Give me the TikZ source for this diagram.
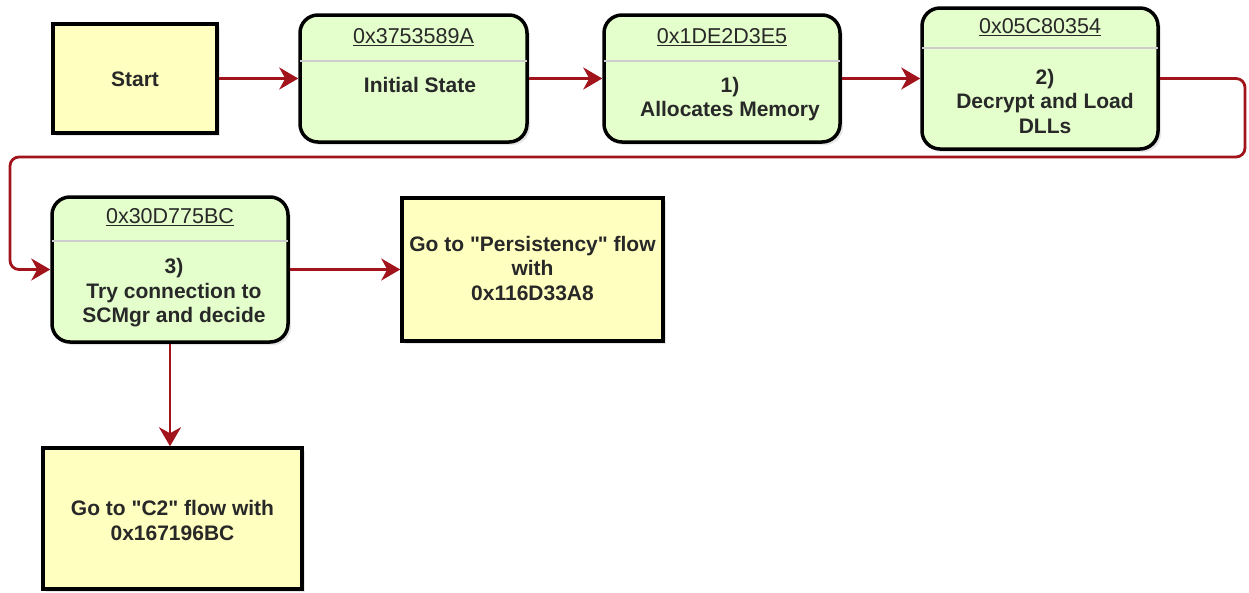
\documentclass[tikz,border=0pt]{standalone}
\usepackage{fontspec}
\setmainfont{Liberation Sans}
\usetikzlibrary{arrows.meta,shadows}
\definecolor{boxyellow}{RGB}{255,255,192}
\definecolor{boxgreen}{RGB}{228,255,204}
\definecolor{arrowred}{RGB}{162,20,28}
\definecolor{txt}{RGB}{40,40,40}
\definecolor{sepgray}{RGB}{205,205,205}
\begin{document}
\begin{tikzpicture}[x=1pt,y=-1pt,
  every node/.style={font=\fontsize{21}{24.5}\selectfont, text=txt},
  plainbox/.style={draw=black, line width=3.5pt, fill=boxyellow, align=center,
    drop shadow={shadow xshift=3pt, shadow yshift=-3pt, opacity=0.2}},
  statebox/.style={draw=black, line width=3.5pt, fill=boxgreen, rounded corners=18pt,
    drop shadow={shadow xshift=3pt, shadow yshift=-3pt, opacity=0.2}},
  hdr/.style={inner sep=0pt, font=\fontsize{21.5}{25}\selectfont},
  bodytxt/.style={inner sep=0pt, align=center, font=\fontsize{21}{24.5}\selectfont\bfseries},
  sepline/.style={draw=sepgray, line width=1.8pt, shorten <=1.8pt, shorten >=1.8pt},
  flow/.style={draw=arrowred, line width=2.8pt,
    -{Stealth[length=19pt,width=22pt,inset=6pt]}}
]
\useasboundingbox (0,0) rectangle (1249,592);

% Start
\node[plainbox, minimum width=164, minimum height=109] (start) at (135,78.5) {};
\node[bodytxt] (startt) at (135,79) {Start};

% State 1
\node[statebox, minimum width=227, minimum height=127] (b1) at (413.5,78.5) {};
\draw[sepline] (b1.west |- 0,61) -- (b1.east |- 0,61);
\node[hdr] (b1h) at (413.5,37) {\underline{0x3753589A}};
\node[bodytxt] (b1t) at (420,85) {Initial State};

% State 2
\node[statebox, minimum width=236, minimum height=127] (b2) at (722,78.5) {};
\draw[sepline] (b2.west |- 0,61) -- (b2.east |- 0,61);
\node[hdr] (b2h) at (722,37) {\underline{0x1DE2D3E5}};
\node[bodytxt] (b2t) at (730,99) {1)\\Allocates Memory};

% State 3
\node[statebox, minimum width=236, minimum height=141] (b3) at (1040,78.5) {};
\draw[sepline] (b3.west |- 0,48) -- (b3.east |- 0,48);
\node[hdr] (b3h) at (1040,27) {\underline{0x05C80354}};
\node[bodytxt] (b3t) at (1045,101) {2)\\Decrypt and Load\\DLLs};

% State 4
\node[statebox, minimum width=236, minimum height=145] (b4) at (170,269.5) {};
\draw[sepline] (b4.west |- 0,241) -- (b4.east |- 0,241);
\node[hdr] (b4h) at (170,217) {\underline{0x30D775BC}};
\node[bodytxt] (b4t) at (174,293) {3)\\Try connection to\\SCMgr and decide};

% Persistency
\node[plainbox, minimum width=261, minimum height=143] (pers) at (532.5,269.5) {};
\node[bodytxt] (perst) at (532.5,268.5) {Go to \textquotedbl Persistency\textquotedbl{} flow\\with\\0x116D33A8};

% C2
\node[plainbox, minimum width=259, minimum height=141] (c2) at (172.5,518.5) {};
\node[bodytxt] (c2t) at (172.5,520.5) {Go to \textquotedbl C2\textquotedbl{} flow with\\0x167196BC};

% connectors
\coordinate (r1) at (1245,157);
\coordinate (l1) at (10,157);
\draw[flow] (start) -- (b1);
\draw[flow] (b1) -- (b2);
\draw[flow] (b2) -- (b3);
\draw[flow, rounded corners=9pt] (b3.east) -| (r1) -- (l1) |- (b4.west);
\draw[flow] (b4.east) -- (pers.west);
\draw[flow] (b4.south) -- (b4.south |- c2.north);
\end{tikzpicture}
\end{document}
